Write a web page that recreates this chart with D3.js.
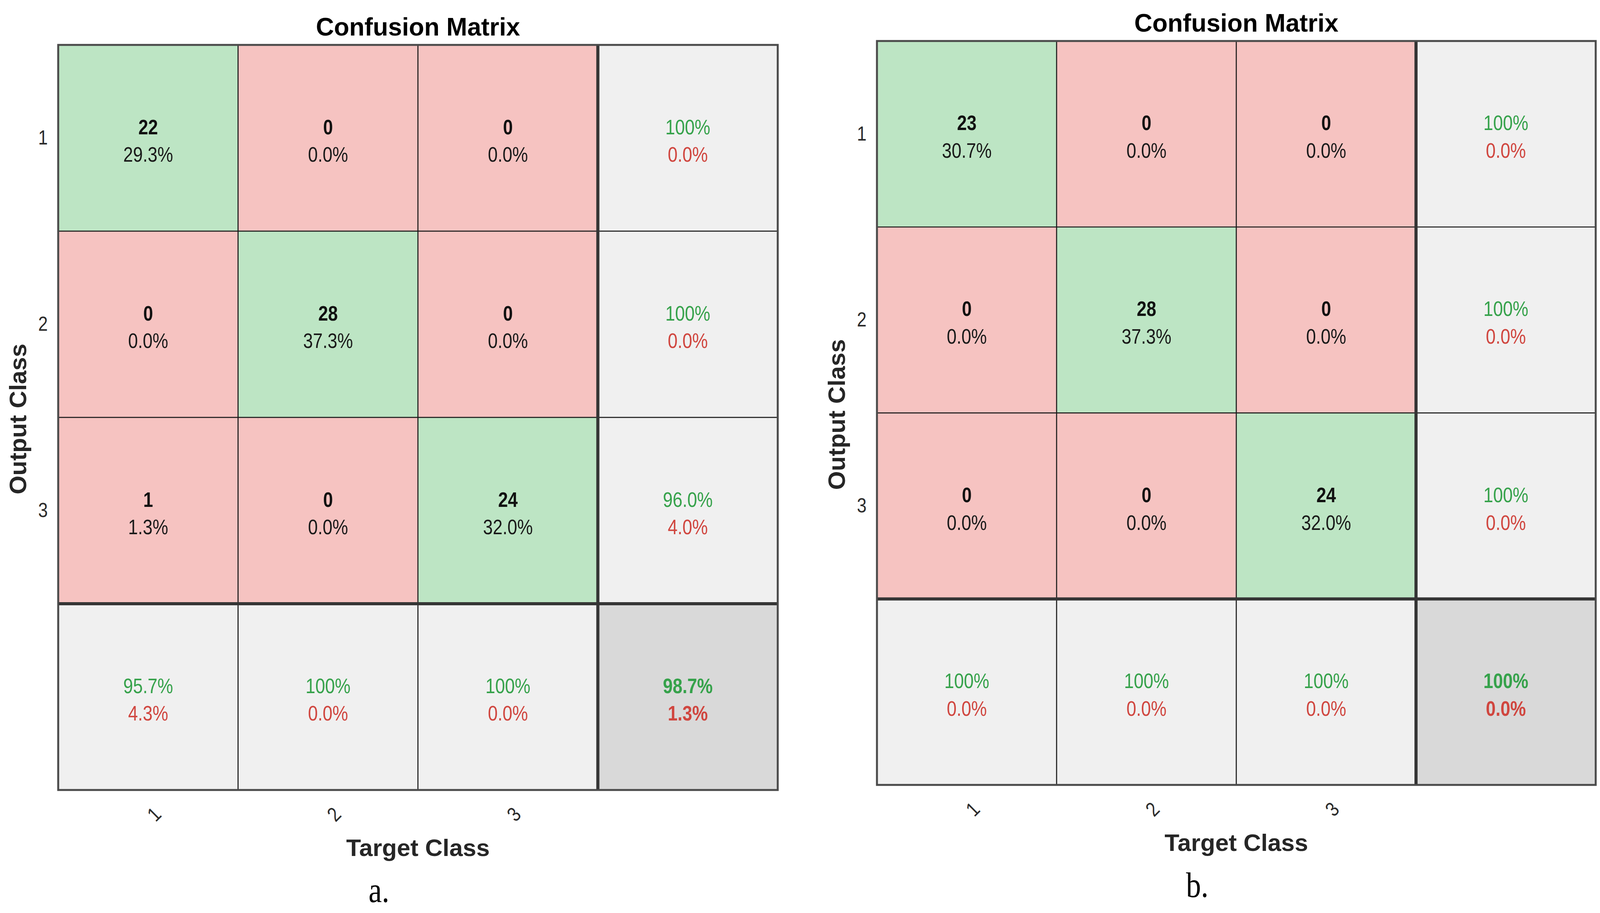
<!DOCTYPE html>
<html>
<head>
<meta charset="utf-8">
<script src="https://cdn.jsdelivr.net/npm/d3@7"></script>
<style>
  html, body { margin: 0; padding: 0; background: #ffffff; }
  svg { display: block; }
</style>
</head>
<body>
<svg id="chart" width="4108" height="2338"></svg>
<script>
// ---------------- data ----------------
const classes = ["1", "2", "3"];
const summaryKey = "all";

// rows = Output Class, columns = Target Class
const countsA = [[22, 0, 0], [0, 28, 0], [1, 0, 24]];
const pctA = [["29.3%", "0.0%", "0.0%"], ["0.0%", "37.3%", "0.0%"], ["1.3%", "0.0%", "32.0%"]];
const rowCorrectA = ["100%", "100%", "96.0%"];
const rowErrorA = ["0.0%", "0.0%", "4.0%"];
const colCorrectA = ["95.7%", "100%", "100%"];
const colErrorA = ["4.3%", "0.0%", "0.0%"];
const totalA = ["98.7%", "1.3%"];

const countsB = [[23, 0, 0], [0, 28, 0], [0, 0, 24]];
const pctB = [["30.7%", "0.0%", "0.0%"], ["0.0%", "37.3%", "0.0%"], ["0.0%", "0.0%", "32.0%"]];
const rowCorrectB = ["100%", "100%", "100%"];
const rowErrorB = ["0.0%", "0.0%", "0.0%"];
const colCorrectB = ["100%", "100%", "100%"];
const colErrorB = ["0.0%", "0.0%", "0.0%"];
const totalB = ["100%", "0.0%"];

const titleText = "Confusion Matrix";
const xLabelText = "Target Class";
const yLabelText = "Output Class";
const captions = ["a.", "b."];

// ---------------- styles ----------------
const COL_GREEN = "#bde5c4";
const COL_RED = "#f6c3c1";
const COL_SUM = "#f0f0f0";
const COL_TOTAL = "#d9d9d9";
const TXT_GREEN = "#36a24b";
const TXT_RED = "#d0463f";
const FONT = "'Liberation Sans', Arial, Helvetica, sans-serif";
const SX = 0.85; // horizontal condensing of the cell / tick text

const svg = d3.select("#chart");

function drawPanel(p) {
  const keys = classes.concat([summaryKey]);
  const x = d3.scaleBand().domain(keys).range([p.x0, p.x1]).paddingInner(0).paddingOuter(0);
  const y = d3.scaleBand().domain(keys).range([p.y0, p.y1]).paddingInner(0).paddingOuter(0);
  const g = svg.append("g");

  const cells = [];
  classes.forEach((r, i) => {
    classes.forEach((c, j) => {
      cells.push({ r, c, fill: i === j ? COL_GREEN : COL_RED,
        l1: String(p.counts[i][j]), l2: p.pct[i][j], c1: "#111", c2: "#1a1a1a", w1: "bold", w2: "normal" });
    });
    cells.push({ r, c: summaryKey, fill: COL_SUM, l1: p.rowCorrect[i], l2: p.rowError[i],
      c1: TXT_GREEN, c2: TXT_RED, w1: "normal", w2: "normal" });
  });
  classes.forEach((c, j) => {
    cells.push({ r: summaryKey, c, fill: COL_SUM, l1: p.colCorrect[j], l2: p.colError[j],
      c1: TXT_GREEN, c2: TXT_RED, w1: "normal", w2: "normal" });
  });
  cells.push({ r: summaryKey, c: summaryKey, fill: COL_TOTAL, l1: p.total[0], l2: p.total[1],
    c1: TXT_GREEN, c2: TXT_RED, w1: "bold", w2: "bold" });

  g.selectAll("rect.cell").data(cells).enter().append("rect")
    .attr("class", "cell")
    .attr("x", d => x(d.c)).attr("y", d => y(d.r))
    .attr("width", x.bandwidth()).attr("height", y.bandwidth())
    .attr("fill", d => d.fill)
    .attr("stroke", "#1a1a1a").attr("stroke-width", 2.5);

  const txt = g.selectAll("g.lab").data(cells).enter().append("g")
    .attr("class", "lab")
    .attr("transform", d => `translate(${x(d.c) + x.bandwidth() / 2},${y(d.r) + y.bandwidth() / 2}) scale(${SX},1)`);
  txt.append("text").attr("y", -10).attr("text-anchor", "middle")
    .attr("font-family", FONT).attr("font-size", 53)
    .attr("font-weight", d => d.w1).attr("fill", d => d.c1).text(d => d.l1);
  txt.append("text").attr("y", 61).attr("text-anchor", "middle")
    .attr("font-family", FONT).attr("font-size", 53)
    .attr("font-weight", d => d.w2).attr("fill", d => d.c2).text(d => d.l2);

  g.append("line")
    .attr("x1", x(summaryKey)).attr("x2", x(summaryKey))
    .attr("y1", p.y0).attr("y2", p.y1)
    .attr("stroke", "#353535").attr("stroke-width", 8);
  g.append("line")
    .attr("x1", p.x0).attr("x2", p.x1)
    .attr("y1", y(summaryKey)).attr("y2", y(summaryKey))
    .attr("stroke", "#353535").attr("stroke-width", 8);

  g.append("rect")
    .attr("x", p.x0).attr("y", p.y0)
    .attr("width", p.x1 - p.x0).attr("height", p.y1 - p.y0)
    .attr("fill", "none").attr("stroke", "#4a4a4a").attr("stroke-width", 5);

  const yAxis = g.append("g").attr("transform", `translate(${p.x0},0)`)
    .call(d3.axisLeft(y).tickValues(classes).tickSize(0).tickPadding(0));
  yAxis.select(".domain").remove();
  yAxis.selectAll("text").attr("font-family", FONT).attr("font-size", 52).attr("fill", "#2b2b2b")
    .attr("x", 0).attr("text-anchor", "middle")
    .attr("transform", `translate(-39,0) scale(${SX},1)`);

  const xAxis = g.append("g").attr("transform", `translate(0,${p.y1})`)
    .call(d3.axisBottom(x).tickValues(classes).tickSize(0));
  xAxis.select(".domain").remove();
  xAxis.selectAll("text")
    .attr("font-family", FONT).attr("font-size", 52).attr("fill", "#2b2b2b")
    .attr("y", 0).attr("dy", "0.35em").attr("text-anchor", "middle")
    .attr("transform", `translate(15,62) rotate(-45) scale(${SX},1)`);

  const cx = (p.x0 + p.x1) / 2;
  const cy = (p.y0 + p.y1) / 2;
  g.append("text").attr("x", cx).attr("y", p.y0 - 24).attr("text-anchor", "middle")
    .attr("font-family", FONT).attr("font-size", 64).attr("font-weight", "bold")
    .attr("fill", "#000").text(titleText);
  g.append("text").attr("x", cx).attr("y", p.y1 + 169).attr("text-anchor", "middle")
    .attr("font-family", FONT).attr("font-size", 62).attr("font-weight", "bold")
    .attr("fill", "#262626").text(xLabelText);
  g.append("text")
    .attr("transform", `translate(${p.x0 - 82},${cy + 4}) rotate(-90)`)
    .attr("text-anchor", "middle")
    .attr("font-family", FONT).attr("font-size", 62).attr("font-weight", "bold")
    .attr("fill", "#262626").text(yLabelText);
  g.append("text")
    .attr("transform", `translate(${cx - 100},${p.y1 + 287}) scale(0.85,1)`)
    .attr("text-anchor", "middle")
    .attr("font-family", "'Liberation Serif', 'Times New Roman', serif").attr("font-size", 90)
    .attr("fill", "#000").text(p.caption);
}

drawPanel({ x0: 149, x1: 1991, y0: 115, y1: 2023,
  counts: countsA, pct: pctA, rowCorrect: rowCorrectA, rowError: rowErrorA,
  colCorrect: colCorrectA, colError: colErrorA, total: totalA, caption: captions[0] });
drawPanel({ x0: 2245, x1: 4085, y0: 105, y1: 2010,
  counts: countsB, pct: pctB, rowCorrect: rowCorrectB, rowError: rowErrorB,
  colCorrect: colCorrectB, colError: colErrorB, total: totalB, caption: captions[1] });
</script>
</body>
</html>
